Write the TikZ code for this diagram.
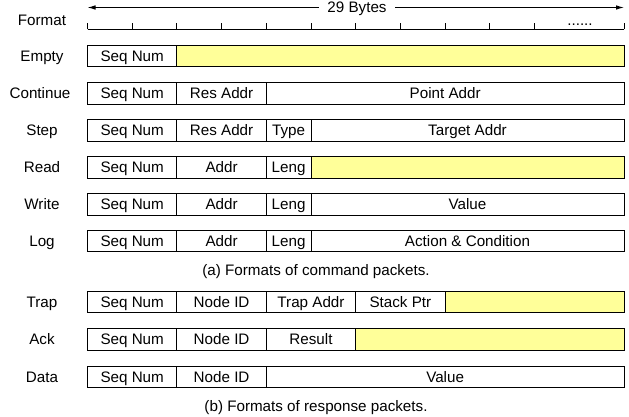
\documentclass[tikz,border=0pt]{standalone}
\usepackage{fontspec}
\setmainfont{Liberation Sans}
\usetikzlibrary{arrows.meta}
\definecolor{padyellow}{RGB}{255,255,153}
\newcommand{\fieldbox}[6][white]{%
  \pgfmathsetmacro\fw{#4-#3}%
  \pgfmathsetmacro\fc{(#3+#4)/2}%
  \node[field, fill=#1, minimum width=\fw pt] (#2) at (\fc,#5) {#6};}
\begin{document}
\begin{tikzpicture}[x=1pt,y=-1pt,
  every node/.style={font=\fontsize{15.2}{17}\selectfont, inner sep=0pt},
  field/.style={draw=black, line width=1pt, minimum height=21.5pt,
                text height=10.9pt, text depth=0pt},
  rowlabel/.style={text height=10.9pt, text depth=0pt},
  caption/.style={text height=10.9pt, text depth=0pt},
  rule/.style={line width=0.9pt},
  bytearrow/.style={line width=0.9pt, {Latex[length=8pt,width=4.5pt]}-{Latex[length=8pt,width=4.5pt]}}]
\useasboundingbox (0,0) rectangle (629,417);

% ---- header: byte ruler ----
\coordinate (aL) at (87.5,7.5);
\coordinate (aR) at (624,7.5);
\draw[bytearrow] (aL) -- (aR);
\node[fill=white, inner xsep=8pt, inner ysep=2pt, text height=10.9pt, text depth=2pt] (bytes) at (357,8) {29 Bytes};
\node[rowlabel] (lFormat) at (42,20) {Format};
\coordinate (rL) at (87.5,29.5);
\coordinate (rR) at (624,29.5);
\draw[rule] (rL) -- (rR);
\foreach \k in {0,...,10} {
  \coordinate (t\k) at ({87.5+44.7*\k},29.5);
  \draw[rule] (t\k) -- ++(0,-6.5);
}
\coordinate (tEnd) at (624,29.5);
\draw[rule] (tEnd) -- ++(0,-6.5);
\node[anchor=base] (dots) at (580,25.5) {......};

% ---- command packets ----
\def\xa{87.5}\def\xb{176.9}\def\xc{266.3}\def\xd{311}\def\xe{355.7}\def\xf{445.1}\def\xg{624}

\node[rowlabel] (lEmpty) at (42,56) {Empty};
\fieldbox{eSeq}{\xa}{\xb}{56}{Seq Num}
\fieldbox[padyellow]{ePad}{\xb}{\xg}{56}{}

\node[rowlabel] (lCont) at (40,93.5) {Continue};
\fieldbox{cSeq}{\xa}{\xb}{93.5}{Seq Num}
\fieldbox{cRes}{\xb}{\xc}{93.5}{Res Addr}
\fieldbox{cPoint}{\xc}{\xg}{93.5}{Point Addr}

\node[rowlabel] (lStep) at (42,130.5) {Step};
\fieldbox{sSeq}{\xa}{\xb}{130.5}{Seq Num}
\fieldbox{sRes}{\xb}{\xc}{130.5}{Res Addr}
\fieldbox{sType}{\xc}{\xd}{130.5}{Type}
\fieldbox{sTarget}{\xd}{\xg}{130.5}{Target Addr}

\node[rowlabel] (lRead) at (42,167.5) {Read};
\fieldbox{rSeq}{\xa}{\xb}{167.5}{Seq Num}
\fieldbox{rAddr}{\xb}{\xc}{167.5}{Addr}
\fieldbox{rLeng}{\xc}{\xd}{167.5}{Leng}
\fieldbox[padyellow]{rPad}{\xd}{\xg}{167.5}{}

\node[rowlabel] (lWrite) at (42,204.5) {Write};
\fieldbox{wSeq}{\xa}{\xb}{204.5}{Seq Num}
\fieldbox{wAddr}{\xb}{\xc}{204.5}{Addr}
\fieldbox{wLeng}{\xc}{\xd}{204.5}{Leng}
\fieldbox{wValue}{\xd}{\xg}{204.5}{Value}

\node[rowlabel] (lLog) at (42,241) {Log};
\fieldbox{gSeq}{\xa}{\xb}{241}{Seq Num}
\fieldbox{gAddr}{\xb}{\xc}{241}{Addr}
\fieldbox{gLeng}{\xc}{\xd}{241}{Leng}
\fieldbox{gAct}{\xd}{\xg}{241}{Action \& Condition}

\node[caption] (capA) at (316,270) {(a) Formats of command packets.};

% ---- response packets ----
\node[rowlabel] (lTrap) at (42,302) {Trap};
\fieldbox{tSeq}{\xa}{\xb}{302}{Seq Num}
\fieldbox{tNode}{\xb}{\xc}{302}{Node ID}
\fieldbox{tTrap}{\xc}{\xe}{302}{Trap Addr}
\fieldbox{tStack}{\xe}{\xf}{302}{Stack Ptr}
\fieldbox[padyellow]{tPad}{\xf}{\xg}{302}{}

\node[rowlabel] (lAck) at (42,339.5) {Ack};
\fieldbox{kSeq}{\xa}{\xb}{339.5}{Seq Num}
\fieldbox{kNode}{\xb}{\xc}{339.5}{Node ID}
\fieldbox{kRes}{\xc}{\xe}{339.5}{Result}
\fieldbox[padyellow]{kPad}{\xe}{\xg}{339.5}{}

\node[rowlabel] (lData) at (42,377) {Data};
\fieldbox{dSeq}{\xa}{\xb}{377}{Seq Num}
\fieldbox{dNode}{\xb}{\xc}{377}{Node ID}
\fieldbox{dValue}{\xc}{\xg}{377}{Value}

\node[caption] (capB) at (316,406) {(b) Formats of response packets.};
\end{tikzpicture}
\end{document}
